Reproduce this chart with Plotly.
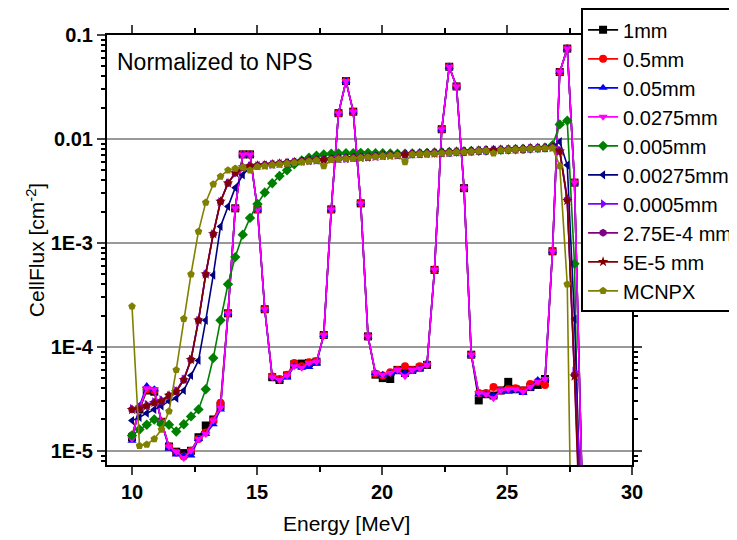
import plotly.graph_objects as go

energy = [10.00, 10.30, 10.59, 10.89, 11.18, 11.48, 11.77, 12.07, 12.36, 12.66,
          12.95, 13.25, 13.54, 13.84, 14.13, 14.43, 14.72, 15.02, 15.31, 15.61,
          15.90, 16.20, 16.49, 16.79, 17.08, 17.38, 17.67, 17.97, 18.26, 18.56,
          18.85, 19.15, 19.44, 19.74, 20.03, 20.33, 20.62, 20.92, 21.21, 21.51,
          21.80, 22.10, 22.39, 22.69, 22.98, 23.28, 23.57, 23.87, 24.16, 24.46,
          24.75, 25.05, 25.34, 25.64, 25.93, 26.23, 26.52, 26.82, 27.11, 27.41,
          27.70, 28.00]

flux_1mm = [1.35e-5, 2.5e-5, 3.8e-5, 3.7e-5, 1.9e-5, 1.1e-5, 9.8e-6, 9.5e-6, 1.0e-5, 1.35e-5,
            1.75e-5, 2.0e-5, 2.7e-5, 2.1e-4, 2.15e-3, 7.1e-3, 7.1e-3, 2.1e-3, 2.3e-4, 5.1e-5,
            4.8e-5, 5.3e-5, 6.8e-5, 6.9e-5, 7.0e-5, 7.2e-5, 1.3e-4, 2.1e-3, 1.77e-2, 3.6e-2,
            1.83e-2, 2.4e-3, 1.26e-4, 5.4e-5, 5.0e-5, 4.9e-5, 6.0e-5, 5.6e-5, 6.0e-5, 6.3e-5,
            6.7e-5, 5.5e-4, 1.24e-2, 4.95e-2, 3.2e-2, 3.36e-3, 8.4e-5, 3.05e-5, 3.5e-5, 3.4e-5,
            3.8e-5, 4.6e-5, 3.9e-5, 3.8e-5, 4.1e-5, 4.3e-5, 4.9e-5, 8.3e-4, 4.4e-2, 7.4e-2,
            3.8e-3, 5e-6]
flux_05mm = [1.4e-5, 2.6e-5, 3.9e-5, 3.8e-5, 1.9e-5, 1.1e-5, 9.6e-6, 8.8e-6, 1.0e-5, 1.3e-5,
             1.5e-5, 1.95e-5, 2.9e-5, 2.1e-4, 2.15e-3, 7.1e-3, 7.1e-3, 2.1e-3, 2.3e-4, 5.2e-5,
             4.9e-5, 5.4e-5, 7.0e-5, 6.5e-5, 7.1e-5, 7.3e-5, 1.3e-4, 2.1e-3, 1.77e-2, 3.6e-2,
             1.83e-2, 2.4e-3, 1.26e-4, 5.5e-5, 5.3e-5, 5.7e-5, 6.0e-5, 6.5e-5, 6.0e-5, 6.5e-5,
             6.8e-5, 5.5e-4, 1.24e-2, 4.95e-2, 3.2e-2, 3.36e-3, 8.4e-5, 3.6e-5, 3.6e-5, 4.1e-5,
             3.8e-5, 3.9e-5, 4.0e-5, 3.8e-5, 4.4e-5, 4.6e-5, 4.3e-5, 8.3e-4, 4.4e-2, 7.4e-2,
             3.8e-3, 5e-6]
flux_005mm = [1.25e-5, 2.7e-5, 4.2e-5, 3.9e-5, 1.9e-5, 1.05e-5, 9.2e-6, 9.0e-6, 9.0e-6, 1.3e-5,
              1.45e-5, 1.8e-5, 2.5e-5, 2.1e-4, 2.15e-3, 7.1e-3, 7.1e-3, 2.1e-3, 2.3e-4, 5.0e-5,
              4.8e-5, 5.1e-5, 6.5e-5, 6.3e-5, 6.4e-5, 6.9e-5, 1.3e-4, 2.1e-3, 1.77e-2, 3.6e-2,
              1.83e-2, 2.4e-3, 1.26e-4, 5.6e-5, 5.4e-5, 5.5e-5, 5.7e-5, 5.6e-5, 5.9e-5, 6.2e-5,
              6.9e-5, 5.5e-4, 1.24e-2, 4.95e-2, 3.2e-2, 3.36e-3, 8.4e-5, 3.5e-5, 3.5e-5, 3.4e-5,
              3.7e-5, 3.7e-5, 3.8e-5, 3.6e-5, 4.0e-5, 4.8e-5, 4.9e-5, 8.3e-4, 4.4e-2, 7.4e-2,
              3.8e-3, 5e-6]
flux_00275mm = [1.3e-5, 2.6e-5, 4.0e-5, 3.9e-5, 1.9e-5, 1.1e-5, 9.8e-6, 8.5e-6, 1.0e-5, 1.3e-5,
                1.45e-5, 1.95e-5, 2.6e-5, 2.1e-4, 2.15e-3, 7.1e-3, 7.1e-3, 2.1e-3, 2.3e-4, 5.1e-5,
                4.8e-5, 5.3e-5, 6.5e-5, 6.3e-5, 7.0e-5, 7.2e-5, 1.3e-4, 2.1e-3, 1.77e-2, 3.6e-2,
                1.83e-2, 2.4e-3, 1.26e-4, 5.6e-5, 5.4e-5, 5.6e-5, 6.0e-5, 5.2e-5, 6.0e-5, 6.2e-5,
                6.7e-5, 5.5e-4, 1.24e-2, 4.95e-2, 3.2e-2, 3.36e-3, 8.4e-5, 3.6e-5, 3.5e-5, 3.2e-5,
                3.8e-5, 3.9e-5, 3.9e-5, 3.7e-5, 4.1e-5, 4.6e-5, 4.9e-5, 8.3e-4, 4.4e-2, 7.4e-2,
                3.8e-3, 5e-6]
flux_0005mm = [1.4e-5, 1.6e-5, 1.78e-5, 2.0e-5, 1.8e-5, 1.78e-5, 1.53e-5, 1.8e-5, 2.14e-5, 2.5e-5,
               3.9e-5, 7.8e-5, 1.8e-4, 4.0e-4, 7.3e-4, 1.2e-3, 1.74e-3, 2.37e-3, 3.05e-3, 3.75e-3,
               4.4e-3, 5.0e-3, 5.7e-3, 6.2e-3, 6.6e-3, 6.9e-3, 7.1e-3, 7.2e-3, 7.25e-3, 7.3e-3,
               7.3e-3, 7.35e-3, 7.35e-3, 7.3e-3, 7.3e-3, 7.25e-3, 7.2e-3, 7.2e-3, 7.25e-3, 7.3e-3,
               7.35e-3, 7.4e-3, 7.45e-3, 7.5e-3, 7.55e-3, 7.6e-3, 7.65e-3, 7.7e-3, 7.75e-3, 7.8e-3,
               7.85e-3, 7.9e-3, 7.95e-3, 8.0e-3, 8.1e-3, 8.15e-3, 8.25e-3, 8.7e-3, 1.38e-2, 1.5e-2,
               6.3e-4, 1e-7]
flux_000275mm = [1.95e-5, 2.1e-5, 2.3e-5, 2.5e-5, 2.7e-5, 3.0e-5, 3.2e-5, 3.8e-5, 5.3e-5, 7.4e-5,
                 1.8e-4, 4.9e-4, 1.44e-3, 2.24e-3, 3.4e-3, 4.5e-3, 5.35e-3, 5.55e-3, 5.6e-3, 5.7e-3,
                 5.8e-3, 5.9e-3, 6.0e-3, 6.1e-3, 6.2e-3, 6.25e-3, 6.3e-3, 6.4e-3, 6.45e-3, 6.5e-3,
                 6.6e-3, 6.65e-3, 6.7e-3, 6.8e-3, 6.9e-3, 6.95e-3, 7.0e-3, 7.1e-3, 7.15e-3, 7.2e-3,
                 7.25e-3, 7.3e-3, 7.35e-3, 7.4e-3, 7.5e-3, 7.55e-3, 7.6e-3, 7.7e-3, 7.75e-3, 7.8e-3,
                 7.85e-3, 7.9e-3, 7.95e-3, 8.0e-3, 8.1e-3, 8.15e-3, 8.2e-3, 8.4e-3, 9.4e-3, 5.6e-3,
                 1.85e-4, 1.2e-6]
flux_00005mm = [2.55e-5, 2.65e-5, 2.8e-5, 2.95e-5, 3.1e-5, 3.4e-5, 3.8e-5, 4.9e-5, 7.6e-5, 1.8e-4,
                5.0e-4, 1.22e-3, 2.5e-3, 3.75e-3, 4.7e-3, 5.35e-3, 5.5e-3, 5.55e-3, 5.6e-3, 5.7e-3,
                5.8e-3, 5.9e-3, 6.0e-3, 6.1e-3, 6.2e-3, 6.25e-3, 6.3e-3, 6.4e-3, 6.45e-3, 6.5e-3,
                6.6e-3, 6.65e-3, 6.7e-3, 6.8e-3, 6.9e-3, 6.95e-3, 7.0e-3, 7.1e-3, 7.15e-3, 7.2e-3,
                7.25e-3, 7.3e-3, 7.35e-3, 7.4e-3, 7.5e-3, 7.55e-3, 7.6e-3, 7.7e-3, 7.75e-3, 7.8e-3,
                7.85e-3, 7.9e-3, 7.95e-3, 8.0e-3, 8.1e-3, 8.15e-3, 8.2e-3, 8.3e-3, 7.8e-3, 2.7e-3,
                5.8e-5, 3e-6]
flux_275em4mm = [2.5e-5, 2.55e-5, 2.7e-5, 2.9e-5, 3.0e-5, 3.4e-5, 3.7e-5, 4.8e-5, 7.5e-5, 1.8e-4,
                 5.0e-4, 1.22e-3, 2.5e-3, 3.75e-3, 4.7e-3, 5.35e-3, 5.5e-3, 5.55e-3, 5.6e-3, 5.7e-3,
                 5.8e-3, 5.9e-3, 6.0e-3, 6.1e-3, 6.2e-3, 6.25e-3, 6.3e-3, 6.4e-3, 6.45e-3, 6.5e-3,
                 6.6e-3, 6.65e-3, 6.7e-3, 6.8e-3, 6.9e-3, 6.95e-3, 7.0e-3, 7.1e-3, 7.15e-3, 7.2e-3,
                 7.25e-3, 7.3e-3, 7.35e-3, 7.4e-3, 7.5e-3, 7.55e-3, 7.6e-3, 7.7e-3, 7.75e-3, 7.8e-3,
                 7.85e-3, 7.9e-3, 7.95e-3, 8.0e-3, 8.1e-3, 8.15e-3, 8.2e-3, 8.3e-3, 7.6e-3, 2.6e-3,
                 5.4e-5, 8e-7]
flux_5em5mm = [2.48e-5, 2.55e-5, 2.7e-5, 2.9e-5, 3.0e-5, 3.4e-5, 3.7e-5, 4.8e-5, 7.5e-5, 1.8e-4,
               5.0e-4, 1.22e-3, 2.5e-3, 3.75e-3, 4.7e-3, 5.35e-3, 5.5e-3, 5.55e-3, 5.6e-3, 5.7e-3,
               5.8e-3, 5.9e-3, 6.0e-3, 6.1e-3, 6.2e-3, 6.25e-3, 6.3e-3, 6.4e-3, 6.45e-3, 6.5e-3,
               6.6e-3, 6.65e-3, 6.7e-3, 6.8e-3, 6.9e-3, 6.95e-3, 7.0e-3, 7.1e-3, 7.15e-3, 7.2e-3,
               7.25e-3, 7.3e-3, 7.35e-3, 7.4e-3, 7.5e-3, 7.55e-3, 7.6e-3, 7.7e-3, 7.75e-3, 7.8e-3,
               7.85e-3, 7.9e-3, 7.95e-3, 8.0e-3, 8.1e-3, 8.15e-3, 8.2e-3, 8.3e-3, 7.6e-3, 2.55e-3,
               5.2e-5, 5e-7]
flux_mcnpx = [2.45e-4, 1.12e-5, 1.15e-5, 1.3e-5, 1.6e-5, 2.4e-5, 6.0e-5, 1.86e-4, 5.0e-4, 1.29e-3,
              2.45e-3, 3.67e-3, 4.36e-3, 5.0e-3, 5.2e-3, 5.35e-3, 5.0e-3, 5.4e-3, 5.5e-3, 5.6e-3,
              5.7e-3, 5.8e-3, 5.9e-3, 6.0e-3, 6.1e-3, 6.2e-3, 5.5e-3, 6.3e-3, 6.4e-3, 6.45e-3,
              6.5e-3, 6.6e-3, 6.65e-3, 6.75e-3, 6.85e-3, 6.9e-3, 6.95e-3, 6.0e-3, 7.1e-3, 7.15e-3,
              7.2e-3, 7.25e-3, 7.3e-3, 7.35e-3, 7.45e-3, 7.5e-3, 7.55e-3, 7.65e-3, 7.7e-3, 7.3e-3,
              7.8e-3, 7.85e-3, 7.9e-3, 7.95e-3, 8.05e-3, 8.1e-3, 8.15e-3, 8.2e-3, 5.5e-3, 4.0e-4,
              1e-8, 1e-8]

series_names = ["1mm", "0.5mm", "0.05mm", "0.0275mm", "0.005mm", "0.00275mm",
                "0.0005mm", "2.75E-4 mm", "5E-5 mm", "MCNPX"]
series_values = [flux_1mm, flux_05mm, flux_005mm, flux_00275mm, flux_0005mm,
                 flux_000275mm, flux_00005mm, flux_275em4mm, flux_5em5mm, flux_mcnpx]
series_colors = ["#000000", "#FF0000", "#0000FF", "#FF00FF", "#008000", "#000080",
                 "#8000FF", "#800080", "#800000", "#808000"]
series_symbols = ["square", "circle", "triangle-up", "triangle-down", "diamond",
                  "triangle-left", "triangle-right", "hexagon", "star", "pentagon"]

y_tickvals = [1e-5, 1e-4, 1e-3, 1e-2, 1e-1]
y_ticktext = ["1E-5", "1E-4", "1E-3", "0.01", "0.1"]
x_tickvals = [10, 15, 20, 25, 30]

FONT = "Liberation Sans, Arial, sans-serif"

fig = go.Figure()
for name, vals, col, sym in zip(series_names, series_values, series_colors, series_symbols):
    fig.add_trace(go.Scatter(
        x=energy, y=vals, name=name, mode="lines+markers",
        line=dict(color=col, width=1.6),
        marker=dict(symbol=sym, size=8, color=col, line=dict(width=0)),
    ))

minor_y = [k * 10.0 ** d for d in range(-6, -1) for k in range(2, 10)]
minor_y = [v for v in minor_y if 7.3e-6 <= v <= 0.1]

# page body has an 8px margin: figure is 729x532 placed at (8, 8)
fig.update_layout(
    width=729, height=532,
    margin=dict(l=99, r=105, t=27, b=75, autoexpand=False),
    paper_bgcolor="white", plot_bgcolor="white",
    font=dict(family=FONT, color="black"),
    showlegend=True,
    legend=dict(x=0.903, y=1.062, xanchor="left", yanchor="top",
                bordercolor="black", borderwidth=2, bgcolor="white",
                font=dict(family=FONT, size=20, color="black"),
                tracegroupgap=0, itemwidth=30, maxheight=600),
    xaxis=dict(range=[9, 30], tickvals=x_tickvals, ticks="outside", ticklen=8, tickwidth=2,
               showline=True, linewidth=2, linecolor="black", mirror="ticks",
               showgrid=False, zeroline=False,
               tickfont=dict(family=FONT, size=20, color="black", weight="bold"),
               minor=dict(tickvals=[12.5, 17.5, 22.5, 27.5], ticks="outside", ticklen=5,
                          tickwidth=2, tickcolor="black", showgrid=False)),
    yaxis=dict(type="log", range=[-5.137, -1], tickmode="array", tickvals=y_tickvals,
               ticktext=y_ticktext, ticks="outside", ticklen=8, tickwidth=2,
               showline=True, linewidth=2, linecolor="black", mirror="ticks",
               showgrid=True, gridcolor="#999999", gridwidth=2, zeroline=False,
               tickfont=dict(family=FONT, size=20, color="black", weight="bold"),
               minor=dict(tickvals=minor_y, ticks="outside", ticklen=4, tickwidth=1.5,
                          tickcolor="black", showgrid=False),
               title=dict(text="CellFlux [cm<sup>-2</sup>]",
                          font=dict(family=FONT, size=21, color="black"), standoff=0)),
    annotations=[
        dict(text="Normalized to NPS", xref="paper", yref="paper",
             x=0.015, y=0.937, xanchor="left", yanchor="middle", showarrow=False,
             font=dict(family=FONT, size=23, color="black")),
        dict(text="Energy [MeV]", xref="paper", yref="paper",
             x=0.457, y=-0.135, xanchor="center", yanchor="middle", showarrow=False,
             font=dict(family=FONT, size=21, color="black")),
    ],
)

fig.write_html("out.html")
